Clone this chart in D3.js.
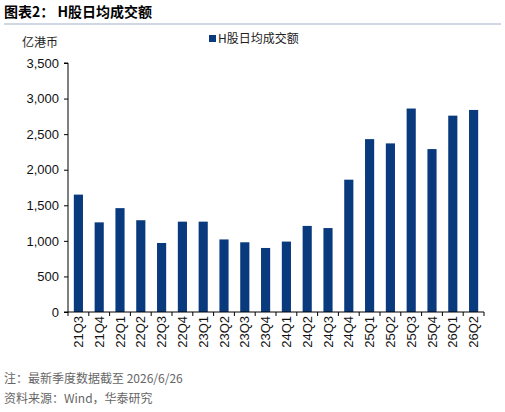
<!DOCTYPE html>
<html><head><meta charset="utf-8">
<script src="https://cdn.jsdelivr.net/npm/d3@7"></script>
<style>body{margin:0;background:#fff}text{font-family:"Liberation Sans","Noto Sans CJK SC",sans-serif}</style>
</head><body>
<svg id="c" width="505" height="412"></svg>
<script>
const quarters = ['21Q3','21Q4','22Q1','22Q2','22Q3','22Q4','23Q1','23Q2','23Q3','23Q4','24Q1','24Q2','24Q3','24Q4','25Q1','25Q2','25Q3','25Q4','26Q1','26Q2'];
const turnover = [1650,1260,1460,1290,970,1270,1270,1020,980,900,990,1210,1180,1860,2430,2370,2860,2290,2760,2840];
const yTicks = [0,500,1000,1500,2000,2500,3000,3500];

const svg = d3.select('#c');
const cjk = '"Noto Sans CJK SC",sans-serif';
const blue = '#0a3a7e';

svg.append('text').attr('x',4).attr('y',17).attr('font-size',14).attr('font-weight','bold')
  .style('font-family',cjk).text('图表2：  H股日均成交额');
svg.append('line').attr('x1',4).attr('x2',501).attr('y1',24).attr('y2',24).attr('stroke','#9fb0c8').attr('stroke-width',1);
svg.append('text').attr('x',22).attr('y',47).attr('font-size',12).style('font-family',cjk).attr('fill','#222').text('亿港币');

svg.append('rect').attr('x',209).attr('y',35).attr('width',7).attr('height',7).attr('fill',blue);
svg.append('text').attr('x',218).attr('y',43).attr('font-size',12).style('font-family',cjk).attr('fill','#222').text('H股日均成交额');

const x = d3.scaleBand().domain(quarters).range([68,484]).paddingInner(0.56).paddingOuter(0.28);
const y = d3.scaleLinear().domain([0,3500]).range([312,63]);

svg.selectAll('rect.bar').data(turnover).enter().append('rect').attr('class','bar')
  .attr('x',(d,i)=>x(quarters[i])).attr('width',x.bandwidth())
  .attr('y',d=>y(d)).attr('height',d=>y(0)-y(d)).attr('fill',blue);

const ya = svg.append('g').attr('transform','translate(68,0)')
  .call(d3.axisLeft(y).tickValues(yTicks).tickSize(4).tickFormat(d3.format(',')));
ya.selectAll('text').attr('font-size',13).attr('fill','#111').attr('dx',-2);
ya.select('.domain').attr('d','M-4,63H0V312H-4');

const xa = svg.append('g').attr('transform','translate(0,312)')
  .call(d3.axisBottom(x).tickSize(0).tickSizeOuter(0));
xa.select('.domain').attr('d','M68,0H484');
xa.selectAll('text').attr('font-size',13).attr('fill','#111')
  .attr('transform','rotate(-90)').attr('text-anchor','end').attr('dx',-4).attr('dy',4).attr('y',0).attr('x',0)
  .attr('dy','0.35em');
x.domain().forEach(q=>{});
svg.selectAll('.tickline').data(d3.range(quarters.length+1)).enter().append('line')
  .attr('x1',i=>68+i*416/20).attr('x2',i=>68+i*416/20).attr('y1',312).attr('y2',316).attr('stroke','#000');

svg.append('text').attr('x',4).attr('y',383).attr('font-size',12).attr('fill','#666').style('font-family',cjk).text('注：最新季度数据截至 2026/6/26');
svg.append('text').attr('x',4).attr('y',403).attr('font-size',12).attr('fill','#666').style('font-family',cjk).text('资料来源：Wind，华泰研究');
</script>
</body></html>
